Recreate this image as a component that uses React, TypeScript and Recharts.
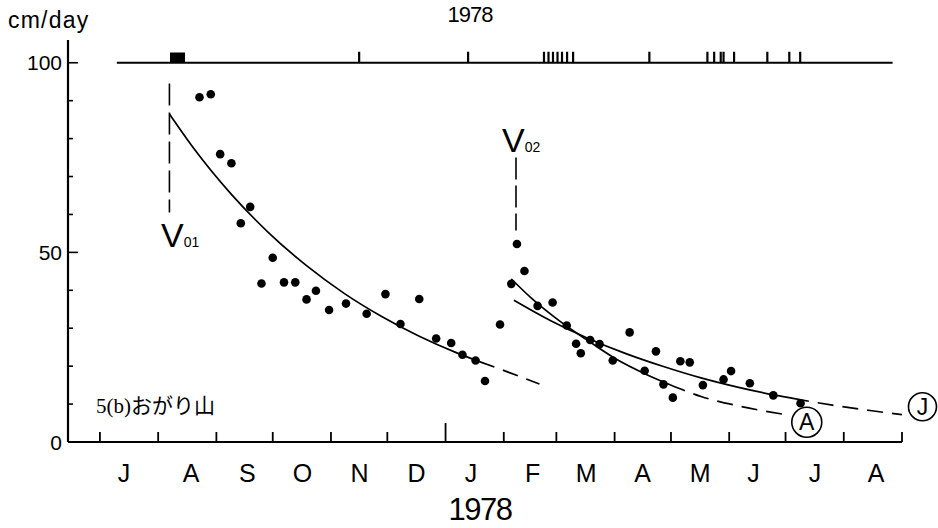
import React from 'react';
import {
  ComposedChart,
  Line,
  Scatter,
  XAxis,
  YAxis,
  ReferenceLine,
  ReferenceArea,
  ReferenceDot,
} from 'recharts';

// x = days counted from 1 July 1977, y = cm/day
const monthStarts = [0, 31, 62, 92, 123, 153, 184, 215, 243, 274, 304, 335, 365, 396, 427];
const monthMids = [12.8, 48.5, 78.5, 107.8, 138.2, 168.5, 197.5, 230.3, 258.8, 288.9, 319.5, 348, 380.7, 413.2];
const monthLabels = ['J', 'A', 'S', 'O', 'N', 'D', 'J', 'F', 'M', 'A', 'M', 'J', 'J', 'A'];
const yearStart = 184;
const yTicks = [0, 10, 20, 30, 40, 50, 60, 70, 80, 90, 100];
const yLabelled = [0, 50, 100];

const velocity = [
  { d: 53, v: 90.9 }, { d: 59, v: 91.7 }, { d: 64, v: 75.9 }, { d: 70, v: 73.5 },
  { d: 75, v: 57.7 }, { d: 80, v: 62.0 }, { d: 86, v: 41.8 }, { d: 92, v: 48.6 },
  { d: 98, v: 42.1 }, { d: 104, v: 42.1 }, { d: 110, v: 37.6 }, { d: 115, v: 39.9 },
  { d: 122, v: 34.8 }, { d: 131, v: 36.5 }, { d: 142, v: 33.8 }, { d: 152, v: 39.0 },
  { d: 160, v: 31.1 }, { d: 170, v: 37.7 }, { d: 179, v: 27.3 }, { d: 187, v: 26.1 },
  { d: 193, v: 23.0 }, { d: 200, v: 21.5 }, { d: 205, v: 16.1 }, { d: 213, v: 31.0 },
  { d: 219, v: 41.7 }, { d: 222, v: 52.2 }, { d: 226, v: 45.1 }, { d: 233, v: 35.9 },
  { d: 241, v: 36.8 }, { d: 248.5, v: 30.7 }, { d: 253.5, v: 25.9 }, { d: 256, v: 23.4 },
  { d: 261, v: 26.9 }, { d: 266, v: 25.8 }, { d: 273, v: 21.5 }, { d: 282, v: 28.9 },
  { d: 290, v: 18.8 }, { d: 296, v: 23.9 }, { d: 300, v: 15.2 }, { d: 305, v: 11.7 },
  { d: 309, v: 21.3 }, { d: 314, v: 21.0 }, { d: 321, v: 15.0 }, { d: 332, v: 16.5 },
  { d: 336, v: 18.7 }, { d: 346, v: 15.5 }, { d: 358.5, v: 12.3 }, { d: 373, v: 10.2 },
];

// fitted decay curves
const fit1Solid = [
  { d: 37, v: 86.5 }, { d: 50, v: 77.4 }, { d: 70, v: 65.3 }, { d: 90, v: 55.1 },
  { d: 110, v: 46.5 }, { d: 130, v: 39.2 }, { d: 150, v: 33.1 }, { d: 170, v: 27.9 },
  { d: 190, v: 23.5 }, { d: 202, v: 21.2 },
];
const fit1Dash = [{ d: 202, v: 21.2 }, { d: 218, v: 18.3 }, { d: 234, v: 15.3 }];

const fitASolid = [
  { d: 219, v: 43.0 }, { d: 230, v: 37.8 }, { d: 245, v: 31.8 }, { d: 259, v: 27.0 },
  { d: 275, v: 21.8 }, { d: 290, v: 18.0 }, { d: 303.5, v: 15.1 },
];
const fitADash = [
  { d: 303.5, v: 15.1 }, { d: 320, v: 12.0 }, { d: 340, v: 9.5 }, { d: 366.5, v: 7.1 },
];

const fitJSolid = [
  { d: 220.4, v: 37.4 }, { d: 240, v: 32.0 }, { d: 260, v: 27.3 }, { d: 280, v: 23.3 },
  { d: 300, v: 19.9 }, { d: 320, v: 16.9 }, { d: 340, v: 14.4 }, { d: 360, v: 12.3 },
  { d: 369, v: 11.5 },
];
const fitJDash = [{ d: 369, v: 11.5 }, { d: 390, v: 9.7 }, { d: 410, v: 8.3 }, { d: 427, v: 7.2 }];

// event marks along the 100 line
const eventDays = [
  { d: 138, v: 100 }, { d: 196, v: 100 }, { d: 236.4, v: 100 }, { d: 238.8, v: 100 },
  { d: 241.2, v: 100 }, { d: 243.6, v: 100 }, { d: 246, v: 100 }, { d: 248.7, v: 100 },
  { d: 251.9, v: 100 }, { d: 292.5, v: 100 }, { d: 323.4, v: 100 }, { d: 327, v: 100 },
  { d: 330.5, v: 100 }, { d: 332, v: 100 }, { d: 337.6, v: 100 }, { d: 355.3, v: 100 },
  { d: 367, v: 100 }, { d: 372.8, v: 100 },
];
const eventSpan = [9, 422];
const blockSpan = [37.3, 45.3];
const v01Day = 37;
const v02Day = 221.5;

const FONT = '"Liberation Sans", Arial, sans-serif';

function XTick(props: any) {
  const { x, y, payload } = props;
  const val = payload.value;
  if (monthStarts.includes(val)) {
    const h = val === yearStart ? 19 : 10;
    return <line x1={x} x2={x} y1={y} y2={y - h} stroke="#000" strokeWidth={1.8} />;
  }
  const i = monthMids.indexOf(val);
  if (i < 0) return <g />;
  return (
    <text x={x} y={y + 40} textAnchor="middle" fontSize={25} fontFamily={FONT} fill="#000">
      {monthLabels[i]}
    </text>
  );
}

function YTick(props: any) {
  const { x, y, payload } = props;
  const val = payload.value;
  const major = yLabelled.includes(val);
  return (
    <g>
      <line x1={x} x2={x + (major ? 10 : 5)} y1={y} y2={y} stroke="#000" strokeWidth={1.6} />
      {major && (
        <text x={x - 6} y={y + 7.5} textAnchor="end" fontSize={21} fontFamily={FONT} fill="#000">
          {val}
        </text>
      )}
    </g>
  );
}

const Dot = (p: any) => <circle cx={p.cx} cy={p.cy} r={4.3} fill="#000" />;
const EventMark = (p: any) => (
  <line x1={p.cx} x2={p.cx} y1={p.cy} y2={p.cy - 11} stroke="#000" strokeWidth={2.2} />
);

const curve = { stroke: '#000', strokeWidth: 1.7, dot: false, activeDot: false, isAnimationActive: false } as const;

export default function App() {
  const ticks = [...monthStarts, ...monthMids].sort((a, b) => a - b);
  return (
    <div style={{ position: 'absolute', left: 0, top: 0, width: 938, height: 528, background: '#fff' }}>
      <ComposedChart width={938} height={528} margin={{ top: 40, right: 36, bottom: 26, left: 8 }}>
        <XAxis
          dataKey="d"
          type="number"
          domain={[-17, 427]}
          allowDataOverflow
          ticks={ticks}
          interval={0}
          tick={<XTick />}
          tickLine={false}
          tickSize={0}
          tickMargin={0}
          height={60}
          axisLine={{ stroke: '#000', strokeWidth: 2.2 }}
        />
        <YAxis
          dataKey="v"
          type="number"
          domain={[0, 106]}
          allowDataOverflow
          ticks={yTicks}
          interval={0}
          tick={<YTick />}
          tickLine={false}
          tickSize={0}
          tickMargin={0}
          width={60}
          axisLine={{ stroke: '#000', strokeWidth: 2.2 }}
        />
        <ReferenceLine
          segment={[{ x: eventSpan[0], y: 100 }, { x: eventSpan[1], y: 100 }]}
          stroke="#000"
          strokeWidth={2}
        />
        <ReferenceArea x1={blockSpan[0]} x2={blockSpan[1]} y1={100} y2={102.7} fill="#000" fillOpacity={1} />
        <ReferenceLine
          segment={[{ x: v01Day, y: 94.5 }, { x: v01Day, y: 60.5 }]}
          stroke="#000"
          strokeWidth={1.6}
          strokeDasharray="22 7"
        />
        <ReferenceLine
          segment={[{ x: v02Day, y: 75 }, { x: v02Day, y: 55.8 }]}
          stroke="#000"
          strokeWidth={1.6}
          strokeDasharray="22 6"
        />
        <Line data={fit1Solid} dataKey="v" type="monotone" {...curve} />
        <Line data={fit1Dash} dataKey="v" type="monotone" strokeDasharray="16 9" {...curve} />
        <Line data={fitASolid} dataKey="v" type="monotone" {...curve} />
        <Line data={fitADash} dataKey="v" type="monotone" strokeDasharray="16 9" {...curve} />
        <Line data={fitJSolid} dataKey="v" type="monotone" {...curve} />
        <Line data={fitJDash} dataKey="v" type="monotone" strokeDasharray="16 9" {...curve} />
        <Scatter data={velocity} dataKey="v" shape={Dot} isAnimationActive={false} />
        <Scatter data={eventDays} dataKey="v" shape={EventMark} isAnimationActive={false} />
        <ReferenceDot
          x={376.3}
          y={5.2}
          r={15}
          fill="none"
          stroke="#000"
          strokeWidth={1.6}
          ifOverflow="visible"
          label={{ value: 'A', position: 'center', fontSize: 23, fill: '#000', fontFamily: FONT }}
        />
        <ReferenceDot
          x={437.9}
          y={9.3}
          r={14}
          fill="none"
          stroke="#000"
          strokeWidth={1.6}
          ifOverflow="visible"
          label={{ value: 'J', position: 'center', fontSize: 23, fill: '#000', fontFamily: FONT }}
        />
      </ComposedChart>
      <svg
        width={938}
        height={528}
        style={{ position: 'absolute', left: 0, top: 0, pointerEvents: 'none' }}
      >
        <text x={470} y={22} textAnchor="middle" fontSize={22} fontFamily={FONT} letterSpacing={-1}>
          1978
        </text>
        <text x={8} y={28} fontSize={23} fontFamily={FONT} letterSpacing={1.2}>
          cm/day
        </text>
        <text x={480} y={520} textAnchor="middle" fontSize={31} fontFamily={FONT} letterSpacing={-1.5}>
          1978
        </text>
        <text x={161} y={247} fontFamily={FONT}>
          <tspan fontSize={34}>V</tspan>
          <tspan fontSize={14}>01</tspan>
        </text>
        <text x={502} y={152} fontFamily={FONT}>
          <tspan fontSize={34}>V</tspan>
          <tspan fontSize={14}>02</tspan>
        </text>
        <text x={96} y={413} fontSize={21}>
          <tspan fontFamily='"Liberation Serif", serif'>5(b)</tspan>
          <tspan fontFamily='"Noto Sans CJK JP", sans-serif'>おがり山</tspan>
        </text>
      </svg>
    </div>
  );
}
